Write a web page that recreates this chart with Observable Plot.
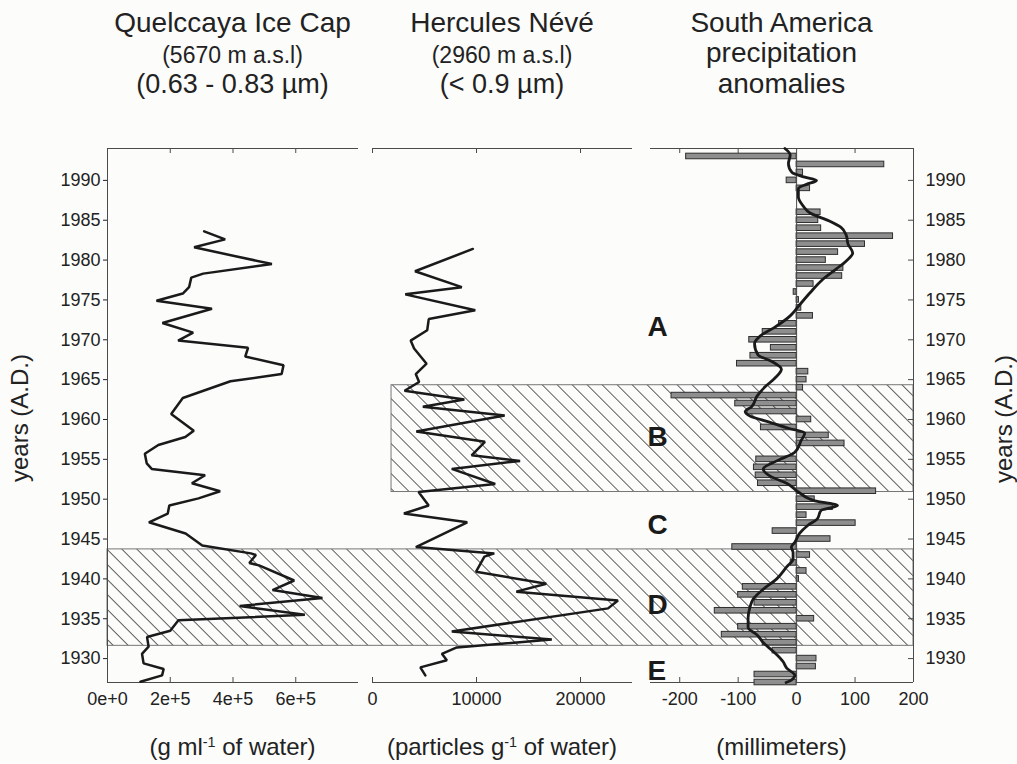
<!DOCTYPE html>
<html><head><meta charset="utf-8">
<script src="https://cdn.jsdelivr.net/npm/d3@7"></script>
<script src="https://cdn.jsdelivr.net/npm/@observablehq/plot@0.6"></script>
<style>
body{margin:0;background:#fcfcfb;}
#fig{position:relative;width:1017px;height:764px;font-family:"Liberation Sans",Arial,sans-serif;color:#222;overflow:hidden;background:#fcfcfb;}
#fig svg{position:absolute;left:0;top:0;}
.t{position:absolute;white-space:nowrap;line-height:1;transform:translateX(-50%);}
.r{position:absolute;white-space:nowrap;line-height:1;transform:translate(-50%,-50%) rotate(-90deg);}
sup{font-size:0.6em;vertical-align:0.55em;line-height:0;}
</style></head><body><div id="fig"></div><script>
// ---------- data ----------
const yearDomain = [1927, 1994];
const yearTicks = [1930, 1935, 1940, 1945, 1950, 1955, 1960, 1965, 1970, 1975, 1980, 1985, 1990];

// Quelccaya Ice Cap dust concentration (g ml-1 of water)
const quelDomain = [0, 800000];
const quelTicks = [0, 200000, 400000, 600000];
const quelTickLabels = ["0e+0", "2e+5", "4e+5", "6e+5"];
const quelYears = [1983.6,1982.6,1981.6,1979.5,1978.3,1977.8,1976.6,1975.8,1974.9,1973.9,1972.1,1970.9,1969.9,1969.0,1967.9,1966.8,1965.7,1964.8,1962.7,1960.7,1958.6,1957.8,1956.8,1955.7,1954.5,1953.8,1953.0,1952.0,1951.0,1950.1,1949.2,1948.2,1947.1,1945.7,1944.2,1943.2,1943.0,1942.0,1941.7,1939.8,1938.6,1937.6,1936.6,1935.5,1934.8,1933.5,1932.7,1931.5,1930.6,1929.4,1928.7,1927.9,1927.1];
const quelValues = [308000,375000,276000,524000,305000,267000,260000,240000,156000,333000,175000,273000,225000,448000,439000,561000,555000,392000,240000,203000,275000,248000,162000,119000,125000,141000,311000,269000,359000,290000,197000,192000,132000,249000,302000,457000,473000,452000,483000,595000,526000,685000,421000,629000,226000,200000,126000,131000,110000,115000,179000,174000,105000];

// Hercules Névé particles (particles g-1 of water)
const hercDomain = [0, 25000];
const hercTicks = [0, 10000, 20000];
const hercTickLabels = ["0", "10000", "20000"];
const hercYears = [1981.4,1978.6,1976.6,1975.7,1973.7,1972.6,1971.2,1969.9,1968.9,1967.0,1965.7,1964.7,1963.6,1962.5,1961.6,1960.5,1958.5,1957.2,1955.5,1954.8,1953.8,1951.9,1950.9,1949.2,1948.2,1947.1,1944.0,1943.2,1942.8,1940.9,1939.4,1938.4,1937.3,1936.3,1933.4,1932.4,1931.4,1930.6,1929.8,1928.9,1927.9];
const hercValues = [9650,4090,8590,3150,9880,5410,5260,3670,4000,5200,4160,4480,3080,8830,4840,12710,4210,10810,9530,14190,7620,11800,4430,5400,3020,9110,4170,11710,10760,9960,16710,13830,23600,22650,7620,17240,8110,6670,7150,4600,5080];

// South America precipitation anomalies (millimeters), yearly bars
const precDomain = [-250, 200];
const precTicks = [-200, -100, 0, 100, 200];
const barYears = [1993,1992,1991,1990,1989,1988,1987,1986,1985,1984,1983,1982,1981,1980,1979,1978,1977,1976,1975,1974,1973,1972,1971,1970,1969,1968,1967,1966,1965,1964,1963,1962,1961,1960,1959,1958,1957,1956,1955,1954,1953,1952,1951,1950,1949,1948,1947,1946,1945,1944,1943,1942,1941,1940,1939,1938,1937,1936,1935,1934,1933,1932,1931,1930,1929,1928,1927];
const barValues = [-189,150,11,-17,23,0,0,41,37,42,165,117,71,50,80,78,29,-5,4,8,28,-30,-58,-81,-44,-79,-102,20,17,11,-214,-105,-84,25,-61,55,82,0,-69,-73,-70,-66,136,31,62,17,101,-41,58,-110,23,-10,17,4,-92,-100,-72,-140,30,-100,-128,-58,-41,34,33,-72,-72];
// smoothed anomaly curve
const smoothYears = [1994.0,1993.2,1992.1,1991.0,1990.4,1990.0,1989.5,1989.0,1987.9,1986.8,1985.9,1984.9,1984.1,1983.1,1982.0,1980.9,1979.9,1978.9,1977.6,1975.9,1974.2,1973.0,1971.5,1970.5,1969.5,1968.1,1967.3,1966.3,1965.2,1964.1,1962.9,1961.6,1961.0,1960.4,1959.7,1958.9,1958.3,1957.4,1955.9,1954.9,1953.8,1952.8,1952.0,1950.9,1949.8,1949.2,1948.6,1947.5,1946.7,1945.7,1944.6,1944.0,1943.3,1942.5,1941.5,1940.0,1938.7,1937.5,1936.4,1935.1,1933.9,1933.0,1932.0,1930.9,1929.6,1928.8,1927.9,1927.3,1927.0];
const smoothValues = [-20,-11,-14,-8,14,34,17,3,3,11,23,56,76,85,88,96,85,68,45,23,3,-11,-39,-62,-72,-66,-43,-26,-37,-54,-68,-77,-88,-79,-48,-14,14,8,-3,-31,-57,-43,-17,3,31,70,42,35,19,5,-3,-9,-6,-6,-17,-34,-57,-74,-80,-83,-83,-68,-57,-40,-23,-17,-3,-9,-18];

// hatched periods
const zoneLabels = ["A", "B", "C", "D", "E"];
const zoneYears = [1971.6, 1957.8, 1946.8, 1936.7, 1928.4];
const bandD = [{y1: 1931.6, y2: 1943.7}];
const bandB = [{y1: 1950.9, y2: 1964.3}];
const bandBStartParticles = 1830; // B band starts inside the Hercules panel

// ---------- helpers ----------
const zip = (ys, vs) => ys.map((y, i) => ({year: y, v: vs[i]}));
const quel = zip(quelYears, quelValues);
const herc = zip(hercYears, hercValues);
const bars = zip(barYears, barValues);
const smooth = zip(smoothYears, smoothValues);
const zones = zoneLabels.map((l, i) => ({label: l, year: zoneYears[i]}));

const W = 1017, H = 764, MT = 148, MB = 82, FH = H - MT - MB;
const AX = "#4a4a4a", LINE = "#1a1a1a";
const baseStyle = {background: "transparent", overflow: "visible", fontFamily: '"Liberation Sans", Arial, sans-serif', fontSize: "18px", color: "#222"};
const common = {width: W, height: H, marginTop: MT, marginBottom: MB, style: baseStyle};
const yScale = {domain: yearDomain, label: null};

// Left panel: Quelccaya
const L0 = 107, L1 = 358;
const left = Plot.plot({
  ...common, marginLeft: L0, marginRight: W - L1,
  x: {domain: quelDomain, ticks: quelTicks, tickFormat: d => quelTickLabels[quelTicks.indexOf(d)], tickSize: 0, tickPadding: 10, label: null},
  y: {...yScale, ticks: yearTicks, tickFormat: d => String(d), tickSize: 4, tickPadding: 3},
  marks: [
    Plot.ruleX([quelDomain[0]], {stroke: AX}),
    Plot.ruleY(yearDomain, {stroke: AX}),
    Plot.tickX(quelTicks.slice(1), {x: d => d, insetTop: FH - 5, stroke: AX}),
    Plot.tickX(quelTicks.slice(1), {x: d => d, insetBottom: FH - 5, stroke: AX}),
    Plot.line(quel, {x: "v", y: "year", stroke: LINE, strokeWidth: 2.5, strokeLinejoin: "miter"})
  ]
});

// Middle panel: Hercules Névé
const M0 = 372, M1 = 632;
const mid = Plot.plot({
  ...common, marginLeft: M0, marginRight: W - M1,
  x: {domain: hercDomain, ticks: hercTicks, tickFormat: d => hercTickLabels[hercTicks.indexOf(d)], tickSize: 0, tickPadding: 10, label: null},
  y: {...yScale, axis: null},
  marks: [
    Plot.ruleY(yearDomain, {stroke: AX}),
    Plot.tickX(hercTicks, {x: d => d, insetTop: FH - 5, stroke: AX}),
    Plot.tickX(hercTicks, {x: d => d, insetBottom: FH - 5, stroke: AX}),
    Plot.line(herc, {x: "v", y: "year", stroke: LINE, strokeWidth: 2.5, strokeLinejoin: "miter"})
  ]
});

// Right panel: precipitation anomalies
const R0 = 650, R1 = 913, FW = R1 - R0;
const right = Plot.plot({
  ...common, marginLeft: R0, marginRight: W - R1,
  x: {domain: precDomain, ticks: precTicks, tickFormat: d => String(d), tickSize: 0, tickPadding: 10, label: null},
  y: {...yScale, axis: "right", ticks: yearTicks, tickFormat: d => String(d), tickSize: 0, tickPadding: 12},
  marks: [
    Plot.ruleY(yearDomain, {stroke: AX}),
    Plot.ruleX([precDomain[1]], {stroke: AX}),
    Plot.tickX(precTicks.filter(d => d !== 0), {x: d => d, insetTop: FH - 5, stroke: AX}),
    Plot.tickX(precTicks.filter(d => d !== 0), {x: d => d, insetBottom: FH - 5, stroke: AX}),
    Plot.tickY(yearTicks, {y: d => d, insetLeft: FW - 5, stroke: AX}),
    Plot.rect(bars, {x1: 0, x2: "v", y1: d => d.year - 0.35, y2: d => d.year + 0.35, fill: "#8e8e8e", stroke: "#2e2e2e", strokeWidth: 1}),
    Plot.ruleX([0], {stroke: AX}),
    Plot.line(smooth, {x: "v", y: "year", curve: "monotone-y", stroke: LINE, strokeWidth: 2.8}),
    Plot.text(zones, {y: "year", text: "label", frameAnchor: "left", textAnchor: "start", dx: -3, fontSize: 28, fontWeight: "bold", fill: "#1a1a1a"})
  ]
});

// Hatched bands (drawn underneath the panels)
function addHatch(svg, id) {
  d3.select(svg).insert("defs", ":first-child").html(
    `<pattern id="${id}" patternUnits="userSpaceOnUse" width="10.6" height="10.6" patternTransform="rotate(-45)">` +
    `<line x1="5.3" y1="-1" x2="5.3" y2="11.6" stroke="#5a5a5a" stroke-width="1"/></pattern>`);
  return svg;
}
const overlayD = addHatch(Plot.plot({
  ...common, marginLeft: L0, marginRight: W - R1,
  y: {...yScale, axis: null},
  marks: [Plot.rect(bandD, {y1: "y1", y2: "y2", fill: "url(#hatchD)", stroke: "#777", strokeWidth: 1})]
}), "hatchD");
const bLeft = mid.scale("x").apply(bandBStartParticles);
const overlayB = addHatch(Plot.plot({
  ...common, marginLeft: bLeft, marginRight: W - R1,
  y: {...yScale, axis: null},
  marks: [Plot.rect(bandB, {y1: "y1", y2: "y2", fill: "url(#hatchB)", stroke: "#777", strokeWidth: 1})]
}), "hatchB");

const fig = document.getElementById("fig");
fig.append(overlayD, overlayB, left, mid, right);

// ---------- text ----------
function addText(html, cx, baseline, size) {
  const d = document.createElement("div");
  d.className = "t";
  d.style.left = cx + "px";
  d.style.top = (baseline - 0.8465 * size) + "px";
  d.style.fontSize = size + "px";
  d.innerHTML = html;
  fig.appendChild(d);
}
function addRot(html, cx, cy, size) {
  const d = document.createElement("div");
  d.className = "r";
  d.style.left = cx + "px";
  d.style.top = cy + "px";
  d.style.fontSize = size + "px";
  d.innerHTML = html;
  fig.appendChild(d);
}
const cL = (L0 + L1) / 2, cM = (M0 + M1) / 2, cR = (R0 + R1) / 2;
addText("Quelccaya Ice Cap", cL, 33, 28);
addText("(5670 m a.s.l)", cL, 63, 23);
addText("(0.63 - 0.83 µm)", cL, 94, 27);
addText("Hercules Névé", cM, 33, 28);
addText("(2960 m a.s.l)", cM, 63, 23);
addText("(&lt; 0.9 µm)", cM, 94, 27);
addText("South America", cR, 33, 28);
addText("precipitation", cR, 63, 28);
addText("anomalies", cR, 94, 28);
addText("(g ml<sup>-1</sup> of water)", cL, 755, 24);
addText("(particles g<sup>-1</sup> of water)", cM, 755, 24);
addText("(millimeters)", cR, 755, 24);
addRot("years (A.D.)", 20, 418, 24);
addRot("years (A.D.)", 1004, 419, 24);
</script></body></html>
